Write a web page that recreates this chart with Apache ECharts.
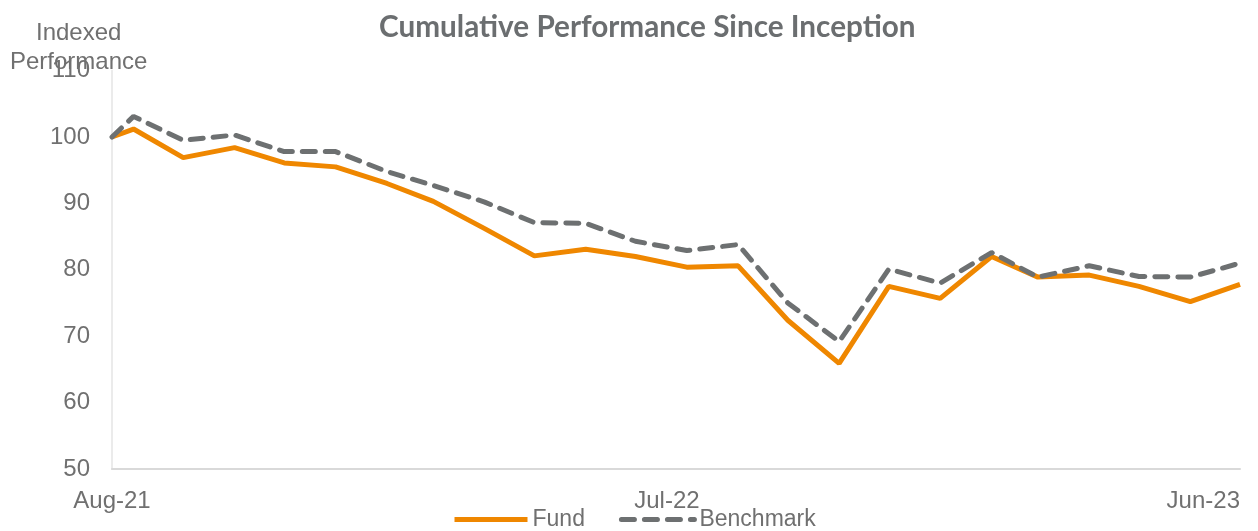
<!DOCTYPE html>
<html>
<head>
<meta charset="utf-8">
<script src="https://cdn.jsdelivr.net/npm/echarts@6/dist/echarts.min.js"></script>
<style>
  html, body { margin: 0; padding: 0; background: #fff; }
  #main { width: 1258px; height: 531px; }
</style>
</head>
<body>
<div id="main"></div>
<script>
// inception date then month-ends
var dates = ['2021-08-18', '2021-08-31', '2021-09-30', '2021-10-31', '2021-11-30', '2021-12-31',
  '2022-01-31', '2022-02-28', '2022-03-31', '2022-04-30', '2022-05-31', '2022-06-30',
  '2022-07-31', '2022-08-31', '2022-09-30', '2022-10-31', '2022-11-30', '2022-12-31',
  '2023-01-31', '2023-02-28', '2023-03-31', '2023-04-30', '2023-05-31', '2023-06-30'];
var fund = [100, 101.2, 96.9, 98.4, 96.1, 95.5, 93.0, 90.3, 86.2, 82.1, 83.1, 82.0,
  80.4, 80.6, 72.4, 65.9, 77.5, 75.7, 82.0, 78.9, 79.2, 77.5, 75.2, 77.8];
var benchmark = [100, 103.1, 99.5, 100.3, 97.8, 97.8, 94.8, 92.7, 90.2, 87.1, 87.0, 84.3,
  82.9, 83.8, 75.0, 69.2, 80.1, 78.0, 82.6, 78.9, 80.6, 79.0, 78.9, 81.0];
var xTickDates = ['2021-08-18', '2022-07-19', '2023-06-30'];
var yTicks = [50, 60, 70, 80, 90, 100, 110];

var monthNames = ['Jan','Feb','Mar','Apr','May','Jun','Jul','Aug','Sep','Oct','Nov','Dec'];
function fmtDate(v) {
  var d = new Date(v);
  return monthNames[d.getUTCMonth()] + '-' + String(d.getUTCFullYear()).slice(2);
}
function pairs(vals) {
  return vals.map(function (v, i) { return [Date.parse(dates[i]), v]; });
}

var labelFont = '"Liberation Sans", Arial, sans-serif';
var grey = '#707070';

var myChart = echarts.init(document.getElementById('main'));
var option = {
  animation: false,
  title: {
    text: 'Cumulative Performance Since Inception',
    left: 374,
    top: 7,
    textStyle: { fontFamily: 'Lato', fontWeight: 'bold', fontSize: 29.7, color: '#6b6e70' }
  },
  graphic: [{
    type: 'text',
    left: 10,
    top: 19,
    style: {
      text: 'Indexed\nPerformance',
      textAlign: 'center',
      x: 68,
      font: '24px ' + labelFont,
      fill: grey,
      lineHeight: 29
    }
  }],
  legend: {
    top: 503,
    left: 447,
    itemWidth: 73,
    itemHeight: 14,
    itemGap: 34,
    itemStyle: { opacity: 0 },
    lineStyle: { width: 5 },
    textStyle: { fontFamily: labelFont, fontSize: 23, color: grey },
    data: ['Fund', 'Benchmark']
  },
  grid: { left: 112, right: 18, top: 70.6, bottom: 62 },
  xAxis: {
    type: 'value',
    min: Date.parse(dates[0]),
    max: Date.parse(dates[dates.length - 1]),
    axisLine: { show: true, onZero: false, lineStyle: { color: '#d9d9d9', width: 2 } },
    axisTick: { show: false },
    splitLine: { show: false },
    axisLabel: {
      customValues: xTickDates.map(function (d) { return Date.parse(d); }),
      formatter: fmtDate,
      margin: 20,
      alignMaxLabel: 'right',
      fontFamily: labelFont,
      fontSize: 24,
      color: grey
    }
  },
  yAxis: {
    type: 'value',
    min: yTicks[0],
    max: yTicks[yTicks.length - 1],
    interval: 10,
    axisLine: { show: true, lineStyle: { color: '#ebebeb', width: 2 } },
    axisTick: { show: false },
    splitLine: { show: false },
    axisLabel: { margin: 22, fontFamily: labelFont, fontSize: 24, color: grey }
  },
  series: [
    {
      name: 'Fund',
      type: 'line',
      symbol: 'none',
      color: '#ef8700',
      lineStyle: { width: 5, color: '#ef8700' },
      data: pairs(fund)
    },
    {
      name: 'Benchmark',
      type: 'line',
      symbol: 'none',
      color: '#6d7071',
      lineStyle: { width: 5, color: '#6d7071', type: [13, 10], cap: 'round' },
      data: pairs(benchmark)
    }
  ]
};
myChart.setOption(option);
</script>
</body>
</html>
